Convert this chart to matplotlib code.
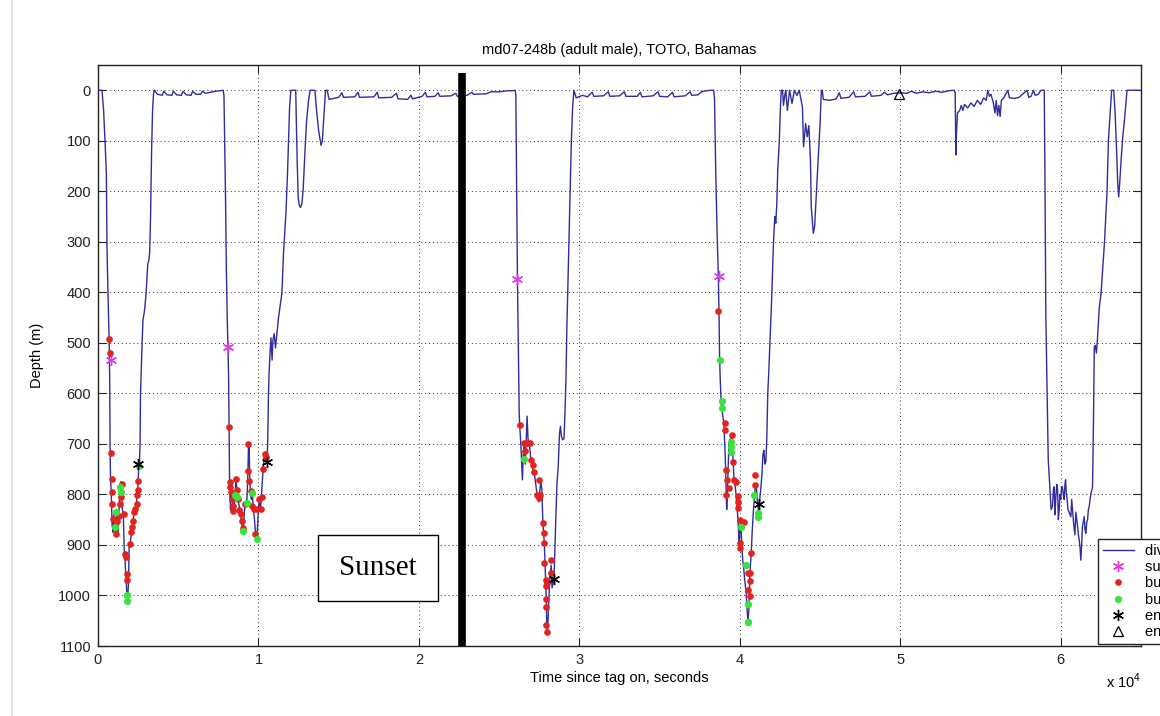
import numpy as np
import matplotlib
matplotlib.use("Agg")
import matplotlib.pyplot as plt
from matplotlib.lines import Line2D
from matplotlib.patches import Rectangle
from matplotlib.ticker import FuncFormatter

plt.rcParams['font.family'] = ['Liberation Sans', 'DejaVu Sans']
plt.rcParams['mathtext.fontset'] = 'custom'
plt.rcParams['mathtext.rm'] = 'Liberation Sans'

# depth record, time in units of 1e4 s, depth in m (split into dive / surface pieces)
dive1_t = [0.000, 0.025, 0.035, 0.045, 0.052, 0.056, 0.062, 0.069, 0.073, 0.075, 0.078, 0.083, 0.088, 0.094, 0.098,
           0.104, 0.110, 0.115, 0.120, 0.125, 0.130, 0.136, 0.142, 0.148, 0.152, 0.158, 0.163, 0.168, 0.173, 0.178,
           0.181, 0.186, 0.190, 0.194, 0.200, 0.206, 0.212, 0.219, 0.226, 0.233, 0.240, 0.246, 0.250, 0.254, 0.258,
           0.262, 0.265, 0.268, 0.275, 0.280, 0.288, 0.292, 0.300, 0.310, 0.318, 0.322, 0.328, 0.334, 0.340, 0.346,
           0.352]
dive1_d = [0, 0, 40, 110, 165, 310, 400, 490, 574, 700, 766, 800, 860, 875, 840,
           865, 880, 835, 860, 880, 840, 790, 775, 800, 830, 840, 905, 925, 960, 985,
           1008, 1000, 975, 905, 900, 880, 862, 850, 833, 825, 815, 800, 775, 745, 740,
           700, 600, 568, 500, 455, 440, 430, 400, 345, 335, 320, 244, 119, 40, 7,
           0]

surf1_t = [0.37, 0.40, 0.41, 0.43, 0.46, 0.47, 0.49, 0.52, 0.53, 0.55, 0.58, 0.59, 0.61, 0.64, 0.65, 0.67, 0.70,
           0.73, 0.76, 0.78]
surf1_d = [8, 10, 2, 9, 10, 2, 9, 10, 2, 9, 10, 2, 8, 8, 2, 6, 4, 2, 1, 0]

dive2_t = [0.785, 0.790, 0.795, 0.800, 0.806, 0.810, 0.814, 0.817, 0.820, 0.822, 0.826, 0.830, 0.836, 0.842, 0.848,
           0.854, 0.860, 0.866, 0.872, 0.878, 0.885, 0.892, 0.898, 0.904, 0.910, 0.916, 0.922, 0.928, 0.934, 0.938,
           0.942, 0.946, 0.950, 0.956, 0.962, 0.968, 0.974, 0.980, 0.986, 0.990, 0.995, 1.000, 1.006, 1.012, 1.018,
           1.024, 1.030, 1.036, 1.042, 1.048, 1.054, 1.058, 1.062, 1.066, 1.072, 1.078, 1.085, 1.090, 1.098, 1.106,
           1.115, 1.125, 1.146, 1.156, 1.171, 1.181, 1.188, 1.194, 1.202]
dive2_d = [10, 120, 218, 356, 460, 508, 570, 667, 773, 800, 830, 790, 778, 835, 825,
           802, 770, 790, 810, 820, 830, 850, 866, 878, 845, 820, 815, 810, 760, 700,
           705, 770, 800, 810, 800, 830, 845, 870, 882, 890, 860, 826, 810, 830, 805,
           775, 745, 725, 722, 735, 735, 690, 608, 561, 520, 490, 534, 495, 482, 510,
           481, 450, 402, 323, 244, 165, 92, 33, 0]

dips1_t = [1.215, 1.232, 1.236, 1.242, 1.248, 1.255, 1.262, 1.270, 1.278, 1.290, 1.300, 1.312, 1.322, 1.352, 1.362,
           1.375, 1.390, 1.398, 1.408, 1.418, 1.428]
dips1_d = [0, 0, 60, 150, 215, 228, 232, 225, 200, 120, 60, 20, 0, 0, 40, 80, 109, 100, 50, 0, 0]

surf2_t = [1.44, 1.50, 1.52, 1.53, 1.60, 1.62, 1.63, 1.72, 1.74, 1.75, 1.83, 1.86, 1.87, 1.93, 1.95, 1.96, 2.02,
           2.04, 2.05, 2.10, 2.12, 2.13, 2.20, 2.23, 2.24, 2.30, 2.33, 2.34, 2.42, 2.45, 2.50, 2.55, 2.58, 2.60]
surf2_d = [18, 14, 5, 14, 13, 4, 14, 13, 4, 15, 14, 6, 17, 18, 10, 17, 12,
           4, 13, 12, 5, 12, 11, 6, 12, 10, 4, 8, 7, 3, 3, 1, 1, 0]

dive3_t = [2.604, 2.608, 2.612, 2.614, 2.618, 2.622, 2.625, 2.628, 2.635, 2.645, 2.650, 2.656, 2.662, 2.668, 2.674,
           2.680, 2.688, 2.696, 2.704, 2.712, 2.722, 2.732, 2.740, 2.748, 2.754, 2.760, 2.766, 2.772, 2.778, 2.782,
           2.786, 2.790, 2.794, 2.797, 2.800, 2.806, 2.812, 2.818, 2.824, 2.830, 2.836, 2.842, 2.848, 2.854, 2.860,
           2.868, 2.876, 2.882, 2.888, 2.896, 2.904, 2.910, 2.916, 2.922, 2.930, 2.940, 2.950, 2.958, 2.966]
dive3_d = [10, 164, 300, 374, 470, 574, 639, 663, 700, 771, 720, 700, 740, 700, 645,
           690, 700, 725, 740, 755, 765, 790, 805, 815, 790, 775, 790, 850, 880, 900,
           940, 975, 1010, 1060, 1075, 1040, 990, 960, 940, 985, 975, 965, 900, 838, 780,
           745, 680, 665, 685, 692, 690, 640, 575, 470, 362, 231, 99, 33, 0]

surf3_t = [2.98, 3.02, 3.05, 3.08, 3.09, 3.15, 3.18, 3.19, 3.25, 3.28, 3.29, 3.36, 3.38, 3.39, 3.46, 3.49, 3.50,
           3.55, 3.58, 3.59, 3.66, 3.69, 3.70, 3.74, 3.76, 3.79, 3.82, 3.837]
surf3_d = [15, 10, 13, 4, 12, 11, 3, 12, 11, 3, 12, 12, 4, 13, 11, 3, 12,
           13, 4, 13, 11, 3, 10, 9, 3, 1, 0, 0]

dive4_t = [3.842, 3.850, 3.858, 3.866, 3.870, 3.874, 3.878, 3.884, 3.892, 3.900, 3.906, 3.910, 3.914, 3.918, 3.922,
           3.926, 3.932, 3.940, 3.946, 3.952, 3.958, 3.964, 3.970, 3.976, 3.984, 3.990, 3.996, 4.000, 4.006, 4.012,
           4.018, 4.024, 4.030, 4.038, 4.044, 4.050, 4.056, 4.062, 4.066, 4.071, 4.078, 4.085, 4.092, 4.098, 4.104,
           4.110, 4.116, 4.122, 4.130, 4.138, 4.144, 4.150, 4.156, 4.162, 4.168, 4.174, 4.180, 4.190, 4.198, 4.210,
           4.218, 4.224, 4.230, 4.236, 4.246, 4.252, 4.258]
dive4_d = [15, 164, 280, 368, 437, 533, 574, 620, 640, 660, 700, 735, 780, 830, 800,
           760, 700, 690, 700, 683, 735, 771, 780, 800, 830, 860, 900, 870, 855, 900,
           930, 946, 969, 990, 1020, 1052, 1030, 960, 940, 915, 867, 830, 800, 780, 790,
           815, 830, 815, 790, 760, 720, 713, 740, 735, 690, 600, 560, 480, 415, 297,
           250, 263, 227, 160, 99, 40, 0]

dips4_t = [4.266, 4.272, 4.280, 4.286, 4.296, 4.310, 4.325, 4.340, 4.356, 4.370, 4.390, 4.397, 4.410, 4.420, 4.430,
           4.440, 4.445, 4.458, 4.466, 4.478, 4.486, 4.500, 4.508, 4.514]
dips4_d = [0, 30, 10, 0, 40, 0, 26, 0, 10, 0, 33, 112, 66, 92, 70,
           138, 231, 283, 270, 198, 150, 66, 0, 0]

surf4_t = [4.520, 4.56, 4.60, 4.62, 4.63, 4.68, 4.71, 4.72, 4.78, 4.81, 4.82, 4.88, 4.90, 4.92, 4.96,
           5.00, 5.04, 5.07, 5.10, 5.14, 5.18, 5.22, 5.26, 5.30, 5.335, 5.342, 5.346, 5.350, 5.356, 5.37,
           5.38, 5.39, 5.40, 5.42, 5.44, 5.46, 5.48, 5.50, 5.52, 5.535, 5.545, 5.555, 5.565, 5.580, 5.590,
           5.598, 5.606, 5.614, 5.622, 5.630, 5.645, 5.670, 5.680, 5.710, 5.740, 5.790, 5.800, 5.815, 5.830, 5.840,
           5.860, 5.876, 5.897]
surf4_d = [18, 20, 17, 5, 16, 14, 3, 13, 12, 3, 12, 10, 4, 9, 6,
           5, 6, 2, 6, 3, 5, 2, 4, 1, 0, 5, 128, 86, 45, 40,
           30, 40, 28, 35, 25, 32, 20, 28, 15, 20, 0, 12, 8, 25, 45,
           20, 50, 30, 52, 20, 15, 0, 15, 16, 14, 0, 14, 12, 0, 10,
           8, 0, 0]

dive5_t = [5.901, 5.907, 5.915, 5.922, 5.934, 5.940, 5.948, 5.954, 5.959, 5.964, 5.969, 5.975, 5.980, 5.985, 5.990,
           5.995, 6.000, 6.005, 6.010, 6.016, 6.021, 6.026, 6.030, 6.035, 6.040, 6.045, 6.050, 6.057, 6.063, 6.068,
           6.073, 6.080, 6.088, 6.094, 6.100, 6.105, 6.110, 6.115, 6.120, 6.125, 6.130, 6.135, 6.140, 6.146, 6.151,
           6.156, 6.162, 6.167, 6.172, 6.177, 6.183, 6.188, 6.198, 6.204, 6.209, 6.215, 6.222, 6.228, 6.240, 6.251,
           6.262, 6.272, 6.288, 6.297, 6.309, 6.317, 6.330, 6.338, 6.348, 6.355, 6.361, 6.368, 6.376, 6.387, 6.397,
           6.413, 6.500]
dive5_d = [152, 448, 600, 732, 798, 830, 824, 790, 785, 840, 807, 780, 790, 850, 830,
           800, 810, 785, 785, 800, 810, 780, 771, 800, 810, 830, 834, 840, 844, 810,
           830, 857, 880, 835, 850, 864, 880, 890, 905, 930, 900, 864, 855, 844, 870,
           877, 855, 850, 830, 824, 810, 798, 785, 650, 508, 505, 520, 495, 430, 402,
           350, 303, 204, 99, 40, 0, 0, 40, 120, 185, 211, 180, 138, 90, 59,
           0, 0]

# event markers
start_t = [0.083, 0.808, 2.614, 3.870]
start_d = [533, 508, 374, 368]

buzz_on_t = [0.069, 0.073, 0.083, 0.090, 0.086, 0.090, 0.094, 0.104, 0.110, 0.119, 0.129, 0.140, 0.146, 0.152,
             0.160, 0.167, 0.173, 0.181, 0.181, 0.198, 0.208, 0.215, 0.219, 0.226, 0.231, 0.240, 0.244, 0.248,
             0.250,
             0.817, 0.820, 0.824, 0.830, 0.834, 0.840, 0.844, 0.860, 0.869, 0.875, 0.881, 0.890, 0.896, 0.902,
             0.917, 0.9375, 0.9375, 0.944, 0.952, 0.962, 0.973, 0.981, 0.990, 1.006, 1.015, 1.021, 1.031, 1.042,
             1.048,
             2.628, 2.653, 2.664, 2.674, 2.691, 2.699, 2.709, 2.720, 2.737, 2.747, 2.747, 2.757, 2.772, 2.778,
             2.782, 2.778, 2.789, 2.795, 2.799, 2.793, 2.793, 2.793, 2.799, 2.820, 2.824,
             3.863, 3.905, 3.905, 3.916, 3.922, 3.916, 3.932, 3.953, 3.959, 3.965, 3.974, 3.990, 3.990, 3.990,
             4.000, 4.000, 4.000, 4.025, 4.050, 4.063, 4.063, 4.050, 4.063, 4.050, 4.071, 4.094, 4.094]
buzz_on_d = [492, 520, 717, 769, 796, 819, 848, 862, 878, 852, 842, 819, 806, 779,
             839, 918, 924, 957, 970, 898, 875, 865, 852, 835, 829, 819, 802, 792,
             773,
             667, 775, 786, 796, 809, 822, 832, 770, 792, 809, 830, 839, 853, 866,
             819, 700, 753, 773, 793, 822, 828, 878, 828, 809, 828, 806, 750, 720,
             726,
             663, 699, 715, 699, 699, 732, 742, 755, 801, 808, 771, 801, 857, 877,
             897, 936, 969, 981, 976, 1006, 1022, 1058, 1073, 930, 956,
             437, 659, 672, 752, 771, 801, 788, 683, 735, 771, 775, 804, 814, 827,
             851, 897, 907, 854, 956, 956, 972, 989, 1002, 1053, 915, 762, 781]

buzz_off_t = [0.104, 0.115, 0.140, 0.142, 0.181, 0.181, 0.256,
              0.854, 0.869, 0.906, 0.927, 0.962, 0.990,
              2.653,
              3.874, 3.890, 3.890, 3.943, 3.943, 3.943, 4.005, 4.036, 4.050, 4.050, 4.088, 4.113, 4.113]
buzz_off_d = [865, 835, 785, 795, 1000, 1010, 743,
              802, 806, 873, 816, 797, 888,
              729,
              533, 615, 628, 696, 706, 716, 864, 940, 1016, 1052, 801, 837, 844]

end_t = [0.250, 1.052, 2.840, 4.120]
end_d = [740, 736, 968, 819]

last_t = [4.99]
last_d = [7]

sunset_t = 2.27
sunset_top = -34

t = np.concatenate([dive1_t, surf1_t, dive2_t, dips1_t, surf2_t, dive3_t, surf3_t,
                    dive4_t, dips4_t, surf4_t, dive5_t]) * 1e4
d = np.concatenate([dive1_d, surf1_d, dive2_d, dips1_d, surf2_d, dive3_d, surf3_d,
                    dive4_d, dips4_d, surf4_d, dive5_d])

fig = plt.figure(figsize=(11.6, 7.16), dpi=100)
ax = fig.add_axes([98 / 1160, 70 / 716, 1043 / 1160, 581 / 716])

asterisk = (6, 2, 0)
h_dive, = ax.plot(t, d, color='#2e2e9e', lw=1.0, zorder=3)
h_start, = ax.plot(np.array(start_t) * 1e4, start_d, ls='none', marker=asterisk, ms=8,
                   mew=1.0, color='#e03ce0', zorder=4)
h_bon, = ax.plot(np.array(buzz_on_t) * 1e4, buzz_on_d, ls='none', marker='o', ms=4.8,
                 mew=0, color='#e4231f', zorder=5)
h_boff, = ax.plot(np.array(buzz_off_t) * 1e4, buzz_off_d, ls='none', marker='o', ms=5.2,
                  mew=0, color='#3ce23c', zorder=6)
h_end, = ax.plot(np.array(end_t) * 1e4, end_d, ls='none', marker=asterisk, ms=8,
                 mew=1.0, color='k', zorder=7)
h_last, = ax.plot(np.array(last_t) * 1e4, last_d, ls='none', marker='^', ms=7,
                  mfc='none', mec='k', mew=0.9, zorder=7)

# sunset marker line
ax.plot([sunset_t * 1e4, sunset_t * 1e4], [sunset_top, 1100], color='k', lw=5.5,
        solid_capstyle='butt', zorder=8)

ax.set_xlim(0, 6.5e4)
ax.set_ylim(1100, -50)
ax.set_xticks(np.arange(0, 7e4, 1e4))
ax.set_yticks(np.arange(0, 1101, 100))
ax.xaxis.set_major_formatter(FuncFormatter(lambda v, p: f"{v / 1e4:g}"))
ax.tick_params(direction='in', top=True, right=True, length=6, width=0.8,
               labelsize=10.5, colors='#222222', pad=5)
ax.grid(True, linestyle=(0, (1, 3)), color='#333333', lw=0.7)
for s in ax.spines.values():
    s.set_color('#222222')
    s.set_linewidth(1.0)

ax.set_title('md07-248b (adult male), TOTO, Bahamas', fontsize=10.5, pad=8)
ax.set_xlabel('Time since tag on, seconds', fontsize=10.5, labelpad=3)
ax.set_ylabel('Depth (m)', fontsize=10.5, labelpad=10)
fig.text(1141 / 1160, 28 / 716, r'x 10$^{4}$', ha='right', va='baseline', fontsize=10.5)

# sunset label box
ax.add_patch(Rectangle((0.211, 0.0775), 0.115, 0.1135, transform=ax.transAxes,
                       facecolor='white', edgecolor='k', lw=1.0, zorder=9))
ax.text(0.2685, 0.134, 'Sunset', transform=ax.transAxes, ha='center', va='center',
        family=['Liberation Serif', 'DejaVu Serif'], fontsize=21, zorder=10)

# legend sits at the lower right corner and runs past the figure edge
leg = ax.legend([h_dive, h_start, h_bon, h_boff, h_end, h_last],
                ['dive profile', 'sustained clicks', 'buzz start', 'buzz end', 'end clicks', 'end of record'],
                loc='upper left', bbox_to_anchor=(0.9588, 0.1842), borderaxespad=0,
                fontsize=10.5, fancybox=False, edgecolor='#222222', framealpha=1,
                handlelength=2.1, handletextpad=0.75, labelspacing=0.15, borderpad=0.35)
leg.get_frame().set_linewidth(1.0)
leg.set_zorder(20)

fig.add_artist(Line2D([12 / 1160, 12 / 1160], [0, 1], color='#e2e2e2', lw=1.2))

fig.savefig('out.png', dpi=100)
